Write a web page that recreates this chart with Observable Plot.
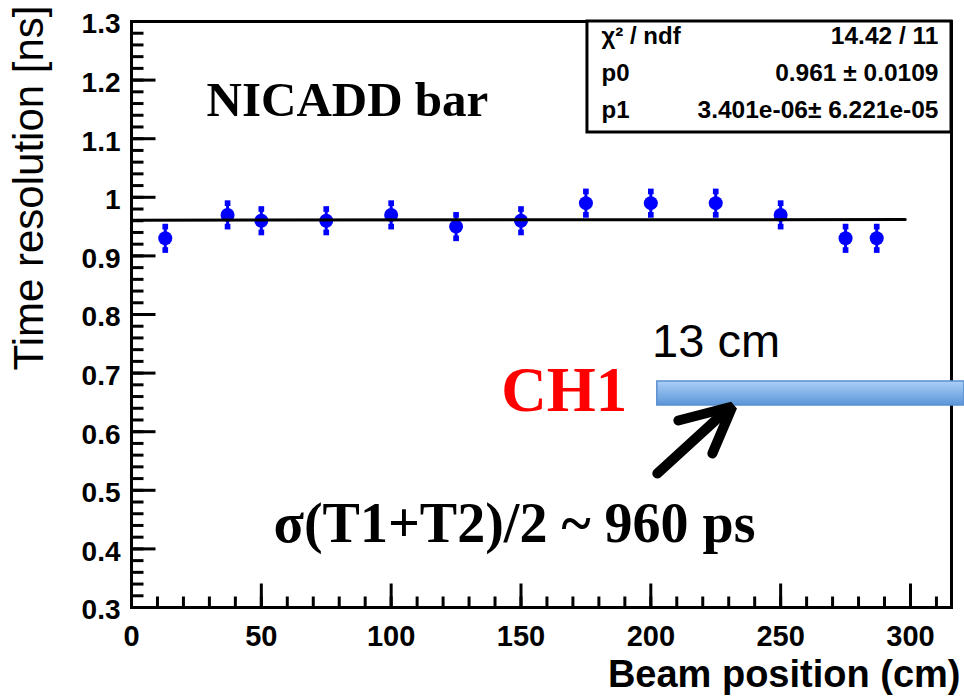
<!DOCTYPE html>
<html><head><meta charset="utf-8">
<script src="https://cdn.jsdelivr.net/npm/d3@7"></script>
<script src="https://cdn.jsdelivr.net/npm/@observablehq/plot@0.6"></script>
<style>body{margin:0;background:#fff}</style>
</head><body><div id="chart"></div>
<script>
// ---- data ----
const positions   = [13, 37, 50, 75, 100, 125, 150, 175, 200, 225, 250, 275, 287];
const resolutions = [0.93, 0.97, 0.96, 0.96, 0.97, 0.95, 0.96, 0.99, 0.99, 0.99, 0.97, 0.93, 0.93];
const errors      = [0.02, 0.02, 0.02, 0.02, 0.02, 0.02, 0.02, 0.02, 0.02, 0.02, 0.02, 0.02, 0.02];
const fitX = [0, 298];
const fitY = [0.961, 0.962];
const yTickValues = [0.3, 0.4, 0.5, 0.6, 0.7, 0.8, 0.9, 1, 1.1, 1.2, 1.3];
const xTickValues = [0, 50, 100, 150, 200, 250, 300];
const statsNames  = ["χ² / ndf", "p0", "p1"];
const statsValues = ["14.42 / 11", "0.961 ± 0.0109", "3.401e-06± 6.221e-05"];

const points = positions.map((x, i) => ({x, y: resolutions[i], lo: resolutions[i] - errors[i], hi: resolutions[i] + errors[i]}));
const fit = fitX.map((x, i) => ({x, y: fitY[i]}));
const yMinor = d3.range(15, 66).map(k => k / 50);
const xMinor = d3.range(0, 32).map(k => k * 10);

const serif = "Liberation Serif, Times New Roman, serif";
const sans = "Liberation Sans, Arial, Helvetica, sans-serif";

// straight tick shape for Plot.vector
const tickShape = {draw(context, l) { context.moveTo(0, 0); context.lineTo(0, -l); }};
const tickOpts = {shape: tickShape, anchor: "start", stroke: "black", strokeWidth: 3, strokeLinecap: "butt"};

const plot = Plot.plot({
  width: 964, height: 696,
  marginLeft: 131, marginRight: 13, marginTop: 21, marginBottom: 89,
  style: {fontFamily: sans, background: "white", overflow: "visible"},
  x: {domain: [0, 315.8]},
  y: {domain: [0.3, 1.3]},
  marks: [
    // tick marks (inside the frame)
    Plot.vector(yMinor, {y: d => d, frameAnchor: "left", rotate: 90, length: 12, ...tickOpts}),
    Plot.vector(yTickValues, {y: d => d, frameAnchor: "left", rotate: 90, length: 24, ...tickOpts}),
    Plot.vector(xMinor, {x: d => d, frameAnchor: "bottom", rotate: 0, length: 11, ...tickOpts}),
    Plot.vector(xTickValues, {x: d => d, frameAnchor: "bottom", rotate: 0, length: 24, ...tickOpts}),
    // tick labels
    Plot.axisY(yTickValues, {anchor: "left", tickSize: 0, tickPadding: 11, dy: 3, tickFormat: d => String(d), fontSize: 28, fontWeight: "bold", fill: "black", label: null}),
    Plot.axisX(xTickValues, {anchor: "bottom", tickSize: 0, tickPadding: 18, tickFormat: d => String(d), fontSize: 29, fontWeight: "bold", fill: "black", label: null}),
    Plot.frame({stroke: "black", strokeWidth: 3}),
    // axis titles
    Plot.text(["Time resolution [ns]"], {text: d => d, frameAnchor: "top-left", rotate: -90, textAnchor: "end", lineAnchor: "bottom", dx: -89, dy: -16, fontSize: 42}),
    Plot.text(["Beam position (cm)"], {text: d => d, frameAnchor: "bottom-right", textAnchor: "end", lineAnchor: "bottom", dx: 9, dy: 79, fontSize: 38, fontWeight: "bold"}),
    // data
    Plot.ruleX(points, {x: "x", y1: "lo", y2: "hi", stroke: "#0000ff", strokeWidth: 3}),
    Plot.dot(points, {x: "x", y: "lo", symbol: "square", r: 3.2, fill: "#0000ff"}),
    Plot.dot(points, {x: "x", y: "hi", symbol: "square", r: 3.2, fill: "#0000ff"}),
    Plot.dot(points, {x: "x", y: "y", r: 7, fill: "#0000ff"}),
    Plot.line(fit, {x: "x", y: "y", stroke: "black", strokeWidth: 3}),
    // stats box
    Plot.rect([0], {x1: 175.6, x2: 315.8, y1: 1.1106, y2: 1.3, fill: "white", stroke: "black", strokeWidth: 3}),
    ...statsNames.map((name, i) => Plot.text([name], {text: d => d, frameAnchor: "top-right", textAnchor: "start", lineAnchor: "bottom", dx: -350, dy: 22 + 37 * i, fontSize: 24, fontWeight: "bold"})),
    ...statsValues.map((v, i) => Plot.text([v], {text: d => d, frameAnchor: "top-right", textAnchor: "end", lineAnchor: "bottom", dx: -13, dy: 22 + 37 * i, fontSize: 24.5, fontWeight: "bold"})),
    // annotations
    Plot.text(["NICADD bar"], {text: d => d, x: 28.9, y: 1.138, textAnchor: "start", lineAnchor: "bottom", fontFamily: serif, fontWeight: "bold", fontSize: 49}),
    Plot.rect([0], {x1: 202.5, x2: 320.8, y1: 0.6447, y2: 0.6857, fill: "url(#barGrad)", stroke: "#5a8fd0", strokeWidth: 1.5}),
    Plot.text(["13 cm"], {text: d => d, x: 200.5, y: 0.727, textAnchor: "start", lineAnchor: "bottom", fontFamily: sans, fontSize: 47}),
    Plot.text(["CH1"], {text: d => d, x: 142.4, y: 0.635, textAnchor: "start", lineAnchor: "bottom", fontFamily: serif, fontWeight: "bold", fontSize: 63, fill: "#ff0000"}),
    Plot.line([{x: 202.5, y: 0.5287}, {x: 229.9, y: 0.6395}], {x: "x", y: "y", stroke: "black", strokeWidth: 10}),
    Plot.line([{x: 210.6, y: 0.6191}, {x: 231.4, y: 0.643}, {x: 223.7, y: 0.5628}], {x: "x", y: "y", stroke: "black", strokeWidth: 10, strokeLinecap: "round", strokeLinejoin: "miter"}),
    Plot.text(["σ(T1+T2)/2 ~ 960 ps"], {text: d => d, x: 147.5, y: 0.411, textAnchor: "middle", lineAnchor: "bottom", fontFamily: serif, fontWeight: "bold", fontSize: 56})
  ]
});

const defs = d3.select(plot).insert("defs", ":first-child");
const g = defs.append("linearGradient").attr("id", "barGrad").attr("x1", 0).attr("y1", 0).attr("x2", 0).attr("y2", 1);
g.append("stop").attr("offset", "0%").attr("stop-color", "#abcff8");
g.append("stop").attr("offset", "100%").attr("stop-color", "#5b96d8");

document.getElementById("chart").appendChild(plot);
</script>
</body></html>
